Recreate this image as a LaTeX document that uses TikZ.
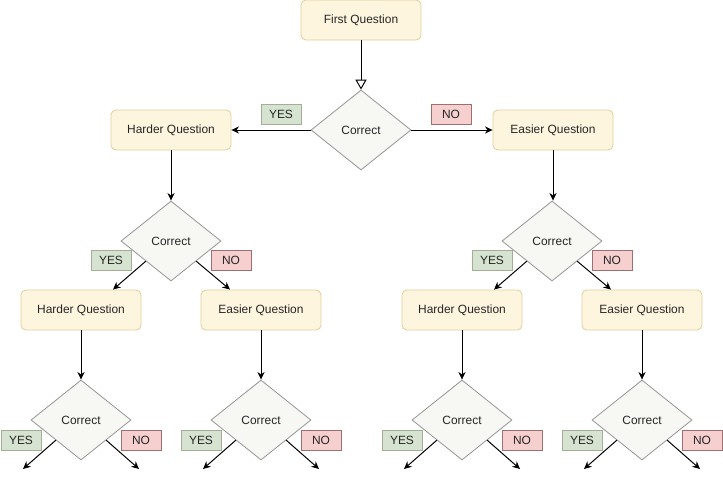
\documentclass[tikz,border=0pt]{standalone}
\usepackage{fontspec}
\setmainfont{Liberation Sans}
\usetikzlibrary{shapes.geometric,arrows.meta,calc}

\definecolor{qfill}{HTML}{FEF5DF}
\definecolor{qline}{HTML}{E0CF9E}
\definecolor{cfill}{HTML}{F7F7F3}
\definecolor{cline}{HTML}{999999}
\definecolor{yfill}{HTML}{D5E3D0}
\definecolor{yline}{HTML}{A3AE96}
\definecolor{nfill}{HTML}{F6CFCF}
\definecolor{nline}{HTML}{9C7070}

\tikzset{
  question/.style={draw=qline, fill=qfill, rounded corners=3.5pt, line width=0.6pt,
    minimum width=3cm, minimum height=1cm, inner sep=0pt},
  check/.style={diamond, draw=cline, fill=cfill, line width=0.6pt,
    minimum width=2.5cm, minimum height=2cm, inner sep=0pt},
  yes/.style={draw=yline, fill=yfill, line width=0.6pt,
    minimum width=1cm, minimum height=0.5cm, inner sep=0pt},
  no/.style={draw=nline, fill=nfill, line width=0.6pt,
    minimum width=1cm, minimum height=0.5cm, inner sep=0pt},
  arrow/.style={line width=0.7pt, -{Stealth[length=1.9mm, width=1.8mm]}},
  openarrow/.style={line width=0.7pt, -{Triangle[open, length=2.5mm, width=2.8mm]}}
}

\begin{document}
\begin{tikzpicture}[x=0.025cm, y=-0.025cm, font=\fontsize{8.5}{10}\selectfont, text=black!85]
\path[use as bounding box] (0,0) rectangle (723,479);

\node[question] (first) at (361,20) {First Question};
\node[check] (c0) at (361,130) {Correct};
\node[question] (hard) at (171,130) {Harder Question};
\node[question] (easy) at (553,130) {Easier Question};
\node[yes] (y0) at (281,114) {YES};
\node[no] (n0) at (451,114) {NO};

\draw[openarrow] (first) -- (c0);
\draw[arrow] (c0) -- (hard);
\draw[arrow] (c0) -- (easy);

\foreach \up/\c/\x in {hard/c1/171, easy/c2/552} {
  \node[check] (\c) at (\x,241) {Correct};
  \node[yes] (\c y) at (\x-60,260) {YES};
  \node[no] (\c n) at (\x+60,260) {NO};
  \node[question] (\c h) at (\x-90,310) {Harder Question};
  \node[question] (\c e) at (\x+90,310) {Easier Question};
  \draw[arrow] (\up.south) -- (\up.south |- \c.north);
  \draw[arrow] (\c.south west) -- ($(\c h.north)+(32,0)$);
  \draw[arrow] (\c.south east) -- ($(\c e.north)+(-31,0)$);
}

\foreach \up/\x in {c1h/81, c1e/261, c2h/462, c2e/642} {
  \node[check] (\up c) at (\x,420) {Correct};
  \node[yes] (\up y) at (\x-60,440) {YES};
  \node[no] (\up n) at (\x+60,440) {NO};
  \coordinate (\up l) at (\x-58,469);
  \coordinate (\up r) at (\x+58,469);
  \draw[arrow] (\up) -- (\up c);
  \draw[arrow] (\up c.south west) -- (\up l);
  \draw[arrow] (\up c.south east) -- (\up r);
}

\end{tikzpicture}
\end{document}
